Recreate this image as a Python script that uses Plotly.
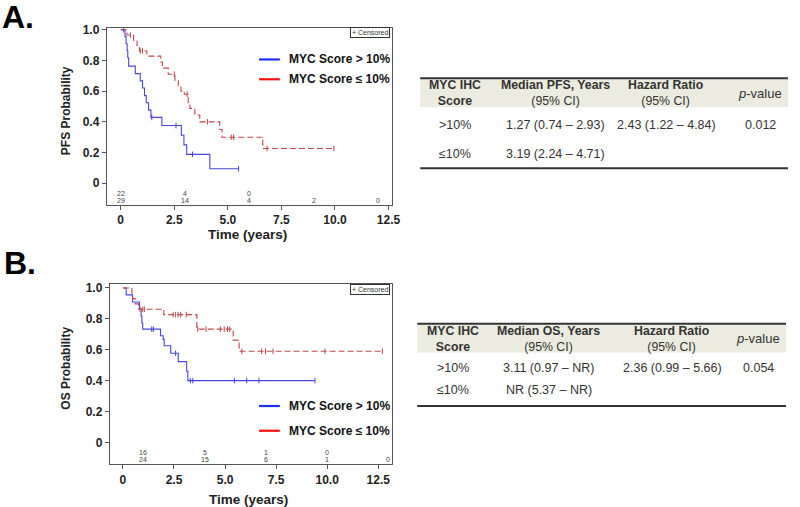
import numpy as np
import plotly.graph_objects as go

# ---------------- data ----------------
# Panel A: PFS
A_hi_t = [0, 0.2, 0.25, 0.3, 0.33, 0.37, 0.68, 0.91, 1.02, 1.11, 1.19, 1.30, 1.41, 1.92, 2.83, 2.95, 3.08, 4.16, 5.5]
A_hi_s = [1.0, 0.955, 0.909, 0.864, 0.818, 0.763, 0.714, 0.667, 0.62, 0.571, 0.524, 0.476, 0.429, 0.376, 0.313, 0.25, 0.188, 0.094, 0.094]
A_hi_cens = [0.14, 1.45, 2.58, 3.35, 5.5]

A_lo_t = [0, 0.29, 0.6, 0.76, 0.87, 1.22, 1.87, 1.95, 2.22, 2.53, 2.69, 2.81, 2.97, 3.15, 3.23, 3.46, 3.69, 4.62, 4.73, 6.63, 9.95]
A_lo_s = [1.0, 0.966, 0.931, 0.897, 0.862, 0.828, 0.79, 0.75, 0.71, 0.67, 0.635, 0.60, 0.58, 0.52, 0.488, 0.445, 0.40, 0.35, 0.30, 0.226, 0.226]
A_lo_cens = [0.45, 0.91, 1.02, 2.5, 3.1, 4.05, 5.16, 5.27, 6.83, 9.95]

A_risk_times = [0, 3, 6, 9, 12]
A_risk_hi = [22, 4, 0]
A_risk_lo = [29, 14, 4, 2, 0]

# Panel B: OS
B_hi_t = [0, 0.16, 0.47, 0.81, 0.89, 0.93, 0.97, 1.84, 1.97, 2.02, 2.34, 2.71, 3.12, 3.18, 9.4]
B_hi_s = [1.0, 0.955, 0.909, 0.864, 0.818, 0.773, 0.733, 0.69, 0.667, 0.626, 0.577, 0.523, 0.46, 0.40, 0.40]
B_hi_cens = [1.41, 1.49, 2.58, 3.3, 3.42, 5.46, 6.06, 6.66, 9.4]

B_lo_t = [0, 0.44, 0.48, 0.6, 0.76, 2.0, 3.62, 5.4, 5.69, 12.7]
B_lo_s = [1.0, 0.966, 0.931, 0.897, 0.862, 0.827, 0.733, 0.662, 0.59, 0.59]
B_lo_cens = [0.84, 0.97, 1.05, 2.46, 2.58, 2.7, 2.83, 3.1, 3.66, 4.07, 4.77, 4.96, 5.12, 5.23,
             5.82, 6.79, 6.98, 7.35, 9.89, 12.7]

B_risk_times = [1, 4, 7, 10, 13]
B_risk_hi = [16, 5, 1, 0]
B_risk_lo = [24, 15, 6, 1, 0]

series_names = ["MYC Score > 10%", "MYC Score ≤ 10%"]
x_ticks = [0, 2.5, 5.0, 7.5, 10.0, 12.5]
x_ticktext = ["0", "2.5", "5.0", "7.5", "10.0", "12.5"]
y_ticks = [0, 0.2, 0.4, 0.6, 0.8, 1.0]
y_ticktext = ["0", "0.2", "0.4", "0.6", "0.8", "1.0"]

A_table_header = ["<b>MYC IHC</b><br><b>Score</b>", "<b>Median PFS, Years</b><br>(95% CI)",
                  "<b>Hazard Ratio</b><br>(95% CI)", "<i>p</i>-value"]
A_table_rows = [[">10%", "1.27 (0.74 – 2.93)", "2.43 (1.22 – 4.84)", "0.012"],
                ["≤10%", "3.19 (2.24 – 4.71)", "", ""]]
B_table_header = ["<b>MYC IHC</b><br><b>Score</b>", "<b>Median OS, Years</b><br>(95% CI)",
                  "<b>Hazard Ratio</b><br>(95% CI)", "<i>p</i>-value"]
B_table_rows = [[">10%", "3.11 (0.97 – NR)", "2.36 (0.99 – 5.66)", "0.054"],
                ["≤10%", "NR (5.37 – NR)", "", ""]]

# ---------------- figure ----------------
W, H = 800, 507
FONT = "Liberation Sans, Arial, sans-serif"
BLUE = "#4646dc"
RED = "#c04848"
LEG_BLUE = "#1f2fff"
LEG_RED = "#ff1010"


def px(x):
    return x / W


def py(y):
    return 1 - y / H


def surv_at(ts, ss, c):
    idx = np.searchsorted(np.array(ts), c, side="right") - 1
    return ss[max(idx, 0)]


fig = go.Figure()


def add_curve(ts, ss, cens, color, dash, xa, ya):
    fig.add_trace(go.Scatter(x=ts, y=ss, mode="lines", line=dict(color=color, width=1.1, dash=dash, shape="hv"),
                             xaxis=xa, yaxis=ya, showlegend=False, hoverinfo="skip"))
    fig.add_trace(go.Scatter(x=cens, y=[surv_at(ts, ss, c) for c in cens], mode="markers",
                             marker=dict(symbol="line-ns", size=4, line=dict(color=color, width=1)),
                             xaxis=xa, yaxis=ya, showlegend=False, hoverinfo="skip"))


add_curve(A_hi_t, A_hi_s, A_hi_cens, BLUE, "solid", "x", "y")
add_curve(A_lo_t, A_lo_s, A_lo_cens, RED, "6px,3px", "x", "y")
add_curve(B_hi_t, B_hi_s, B_hi_cens, BLUE, "solid", "x2", "y2")
add_curve(B_lo_t, B_lo_s, B_lo_cens, RED, "6px,3px", "x2", "y2")

annotations = []
shapes = []


def ann(x, y, text, size, color="#333", xanchor="center", **kw):
    d = dict(x=x, y=y, text=text, showarrow=False, xanchor=xanchor, yanchor="middle",
             font=dict(size=size, color=color, family=FONT))
    d.update(kw)
    if "xref" not in d:
        d["xref"] = "paper"
        d["yref"] = "paper"
    annotations.append(d)


# at-risk numbers
for times, hi, lo, xr, yr in [(A_risk_times, A_risk_hi, A_risk_lo, "x", "y"),
                              (B_risk_times, B_risk_hi, B_risk_lo, "x2", "y2")]:
    for t, n in zip(times, hi):
        ann(t, -0.064, str(n), 7, "#444", xref=xr, yref=yr)
    for t, n in zip(times, lo):
        ann(t, -0.114, str(n), 7, "#444", xref=xr, yref=yr)

axis_common = dict(showline=True, mirror=True, linecolor="#555", linewidth=1, ticks="outside",
                   ticklen=4, tickcolor="#555", showgrid=False, zeroline=False,
                   tickfont=dict(size=12, color="#222", family=FONT, weight="bold"))

fig.update_layout(
    width=W, height=H, margin=dict(l=0, r=0, t=0, b=0),
    paper_bgcolor="white", plot_bgcolor="white", showlegend=False,
    xaxis=dict(domain=[px(108), px(396)], range=[-0.65, 12.64], tickvals=x_ticks, ticktext=x_ticktext,
               anchor="y", **axis_common),
    yaxis=dict(domain=[py(202), py(23.3)], range=[-0.142, 1.011], tickvals=y_ticks, ticktext=y_ticktext,
               anchor="x", **axis_common),
    xaxis2=dict(domain=[px(111), px(396)], range=[-0.644, 13.15], tickvals=x_ticks, ticktext=x_ticktext,
                anchor="y2", **axis_common),
    yaxis2=dict(domain=[py(464), py(281.7)], range=[-0.143, 1.026], tickvals=y_ticks, ticktext=y_ticktext,
                anchor="x2", **axis_common),
)

# panel labels
ann(px(0), py(12), "<b>A.</b>", 32, "black", xanchor="left")
ann(px(2), py(261), "<b>B.</b>", 32, "black", xanchor="left")

# axis titles
for (xt, yt, ylab) in [((250, 232), (67, 107), "PFS Probability"),
                       ((251, 499), (67, 367), "OS Probability")]:
    ann(px(xt[0]), py(xt[1]), "<b>Time (years)</b>", 13.5, "#222")
    ann(px(yt[0]), py(yt[1]), "<b>" + ylab + "</b>", 12, "#222", textangle=-90)

# censored boxes
for cy in (28, 287.5):
    ann(px(374), py(cy), "+ Censored", 7, "#333", bordercolor="#333", borderwidth=1, borderpad=1,
        bgcolor="white")

# legends
for (yb, yr_) in [(55, 75), (405, 430)]:
    for yv, col, name in [(yb, LEG_BLUE, series_names[0]), (yr_, LEG_RED, series_names[1])]:
        shapes.append(dict(type="line", xref="paper", yref="paper", x0=px(262), x1=px(283), y0=py(yv), y1=py(yv),
                           line=dict(color=col, width=2.2)))
        ann(px(290), py(yv), "<b>" + name + "</b>", 12, "#111", xanchor="left")


# tables
def add_table(header, rows, x0, x1, ytop, yhb, yhead, yrows, ybot, cols):
    shapes.append(dict(type="rect", xref="paper", yref="paper", x0=px(x0), x1=px(x1), y0=py(yhb), y1=py(ytop),
                       fillcolor="#ecebdf", line=dict(width=0), layer="below"))
    shapes.append(dict(type="line", xref="paper", yref="paper", x0=px(x0), x1=px(x1), y0=py(ytop), y1=py(ytop),
                       line=dict(color="#333", width=2)))
    shapes.append(dict(type="line", xref="paper", yref="paper", x0=px(x0), x1=px(x1), y0=py(ybot), y1=py(ybot),
                       line=dict(color="#333", width=2)))
    for cx, h in zip(cols, header):
        size = 13 if "value" in h else 12.3
        ann(px(cx), py(yhead), h, size, "#333")
    for ry, row in zip(yrows, rows):
        for cx, t in zip(cols, row):
            if t:
                ann(px(cx), py(ry), t, 12.5, "#333")


add_table(A_table_header, A_table_rows, 425, 797, 74, 103, 89, [121, 150], 165, [460, 562, 674, 769])
add_table(B_table_header, B_table_rows, 422, 795, 322, 351, 337, [367, 389], 405, [458, 555, 680, 767])

fig.update_layout(annotations=annotations, shapes=shapes)
fig.write_html("out.html", config={"displayModeBar": False},
               post_script="document.body.style.margin='0';")
